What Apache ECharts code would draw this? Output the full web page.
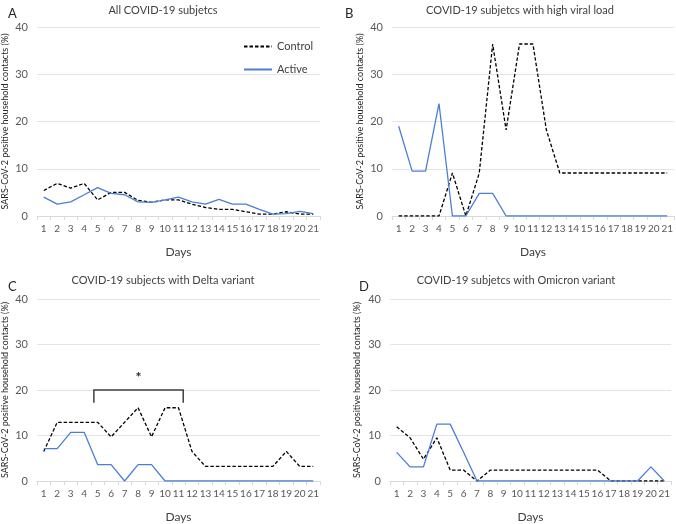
<!DOCTYPE html>
<html>
<head>
<meta charset="utf-8">
<script src="https://cdn.jsdelivr.net/npm/echarts@6/dist/echarts.min.js"></script>
<style>html,body{margin:0;padding:0;background:#fff}#c{width:676px;height:524px}</style>
</head>
<body>
<div id="c"></div>
<script>
const days = ['1','2','3','4','5','6','7','8','9','10','11','12','13','14','15','16','17','18','19','20','21'];
const yTicks = [0, 10, 20, 30, 40];

const panelTitles = ['All COVID-19 subjetcs', 'COVID-19 subjetcs with high viral load', 'COVID-19 subjects with Delta variant', 'COVID-19 subjetcs with Omicron variant'];
const panelLetters = ['A', 'B', 'C', 'D'];

const controlA = [5.4, 6.9, 5.9, 6.9, 3.4, 5.0, 5.0, 3.3, 2.9, 3.4, 3.4, 2.5, 1.8, 1.4, 1.4, 0.9, 0.4, 0.4, 0.9, 0.4, 0.4];
const activeA  = [4.0, 2.5, 3.0, 4.5, 6.0, 4.8, 4.5, 3.0, 2.9, 3.4, 4.0, 3.0, 2.5, 3.5, 2.5, 2.5, 1.4, 0.4, 0.5, 1.0, 0.5];

const controlB = [0, 0, 0, 0, 9.1, 0, 9.1, 36.4, 18.2, 36.4, 36.4, 18.2, 9.1, 9.1, 9.1, 9.1, 9.1, 9.1, 9.1, 9.1, 9.1];
const activeB  = [19.0, 9.5, 9.5, 23.8, 0, 0, 4.8, 4.8, 0, 0, 0, 0, 0, 0, 0, 0, 0, 0, 0, 0, 0];

const controlC = [6.5, 12.9, 12.9, 12.9, 12.9, 9.7, 12.9, 16.1, 9.7, 16.1, 16.1, 6.5, 3.2, 3.2, 3.2, 3.2, 3.2, 3.2, 6.5, 3.2, 3.2];
const activeC  = [7.1, 7.1, 10.7, 10.7, 3.6, 3.6, 0, 3.6, 3.6, 0, 0, 0, 0, 0, 0, 0, 0, 0, 0, 0, 0];

const controlD = [11.9, 9.5, 4.8, 9.5, 2.4, 2.4, 0, 2.4, 2.4, 2.4, 2.4, 2.4, 2.4, 2.4, 2.4, 2.4, 0, 0, 0, 0, 0];
const activeD  = [6.3, 3.1, 3.1, 12.5, 12.5, 6.3, 0, 0, 0, 0, 0, 0, 0, 0, 0, 0, 0, 0, 0, 3.1, 0];

const controlSets = [controlA, controlB, controlC, controlD];
const activeSets = [activeA, activeB, activeC, activeD];

// significance bracket (panel C): spans between days 5..11, at y = 20
const bracketFrom = '5', bracketTo = '11';

const FONT = 'Lato, "Open Sans", sans-serif';
const grids = [
  {left: 35, top: 27, width: 285, height: 189},
  {left: 392, top: 27, width: 282, height: 189},
  {left: 35, top: 299, width: 285, height: 188},
  {left: 390, top: 299, width: 281, height: 188}
];
const titlePos = [
  {cx: 158, y: 0, lx: 3, ly: 2},
  {cx: 515, y: 0, lx: 340, ly: 2},
  {cx: 158, y: 270, lx: 3, ly: 275},
  {cx: 511, y: 270, lx: 354, ly: 275}
];
const yNameGap = [27, 27, 27, 28];

const chart = echarts.init(document.getElementById('c'), null, {renderer: 'canvas'});

const option = {
  backgroundColor: '#ffffff',
  animation: false,
  textStyle: {fontFamily: FONT},
  title: [],
  grid: grids,
  xAxis: grids.map((g, i) => ({
    type: 'category', gridIndex: i, data: days, boundaryGap: true,
    name: 'Days', nameLocation: 'middle', nameGap: 30,
    nameTextStyle: {fontSize: 12, color: '#404040', fontFamily: FONT},
    axisLine: {lineStyle: {color: '#d9d9d9', width: 1}},
    axisTick: {show: true, length: 4, lineStyle: {color: '#d9d9d9'}},
    axisLabel: {fontSize: 10, color: '#595959', margin: 8, interval: 0, fontFamily: FONT},
    splitLine: {show: false}
  })),
  yAxis: grids.map((g, i) => ({
    type: 'value', gridIndex: i, min: yTicks[0], max: yTicks[yTicks.length - 1], interval: 10,
    name: 'SARS-CoV-2 positive household contacts (%)', nameLocation: 'middle', nameGap: yNameGap[i],
    nameTextStyle: {fontSize: 9, color: '#262626', fontFamily: FONT},
    axisLine: {show: false}, axisTick: {show: false},
    axisLabel: {fontSize: 11, color: '#595959', margin: 9, fontFamily: FONT},
    splitLine: {lineStyle: {color: '#e4e4e4', width: 1}}
  })),
  legend: {
    data: ['Control', 'Active'], orient: 'vertical', left: 238, top: 36,
    itemWidth: 28, itemHeight: 10, itemGap: 12,
    itemStyle: {opacity: 0},
    textStyle: {fontSize: 11, color: '#404040', fontFamily: FONT}
  },
  series: []
};

panelTitles.forEach((t, i) => {
  option.title.push({text: t, left: titlePos[i].cx, top: titlePos[i].y, textAlign: 'center',
    textStyle: {fontSize: 11, fontWeight: 'normal', color: '#404040', fontFamily: FONT}});
  option.title.push({text: panelLetters[i], left: titlePos[i].lx, top: titlePos[i].ly,
    textStyle: {fontSize: 13, fontWeight: 'normal', color: '#262626', fontFamily: FONT}});
  option.series.push({
    name: 'Control', type: 'line', xAxisIndex: i, yAxisIndex: i, data: controlSets[i],
    symbol: 'none', lineStyle: {color: '#000000', width: 1.3, type: [3.5, 2]}, itemStyle: {color: '#000000'}
  });
  option.series.push({
    name: 'Active', type: 'line', xAxisIndex: i, yAxisIndex: i, data: activeSets[i],
    symbol: 'none', lineStyle: {color: '#4a7fd6', width: 1.3}, itemStyle: {color: '#4a7fd6'}
  });
});

chart.setOption(option);

// bracket annotation in panel C, positioned through the axis scale
const p4 = chart.convertToPixel({gridIndex: 2}, ['4', 20]);
const p5 = chart.convertToPixel({gridIndex: 2}, [bracketFrom, 20]);
const p11 = chart.convertToPixel({gridIndex: 2}, [bracketTo, 20]);
const p12 = chart.convertToPixel({gridIndex: 2}, ['12', 20]);
const pLow = chart.convertToPixel({gridIndex: 2}, ['5', 17.2]);
const bx1 = p4[0] + (p5[0] - p4[0]) * 0.72;
const bx2 = p11[0] + (p12[0] - p11[0]) * 0.35;
const by = p5[1], byLow = pLow[1];
chart.setOption({
  graphic: [
    {type: 'polyline', shape: {points: [[bx1, byLow], [bx1, by], [bx2, by], [bx2, byLow]]},
     style: {stroke: '#404040', lineWidth: 1.5, fill: null}},
    {type: 'text', x: (bx1 + bx2) / 2, y: by - 6,
     style: {text: '*', font: 'bold 14px ' + FONT, fill: '#262626', textAlign: 'center', textVerticalAlign: 'bottom'}}
  ]
});
</script>
</body>
</html>
